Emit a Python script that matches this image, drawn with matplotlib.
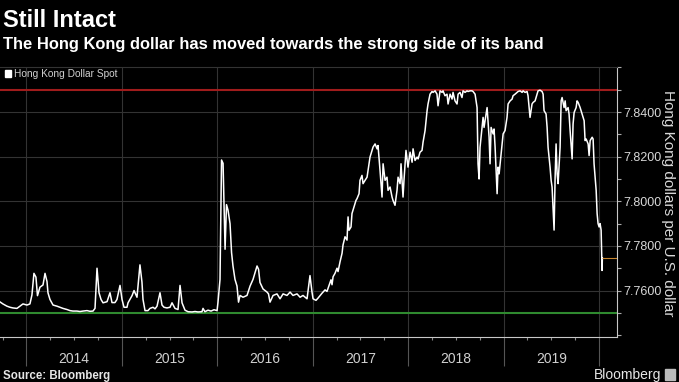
import matplotlib.pyplot as plt
import matplotlib.transforms as mtransforms
from matplotlib.patches import Patch, Rectangle
from matplotlib.ticker import MultipleLocator, FixedLocator, FormatStrFormatter

# time as decimal years
t_years = [
    2013.722, 2013.753, 2013.795, 2013.827, 2013.858, 2013.900, 2013.932, 2013.963,
    2014.005, 2014.036, 2014.057, 2014.078, 2014.099, 2014.115, 2014.141, 2014.173,
    2014.194, 2014.215, 2014.225, 2014.246, 2014.278, 2014.319, 2014.351, 2014.382,
    2014.424, 2014.456, 2014.487, 2014.529, 2014.561, 2014.592, 2014.634, 2014.665,
    2014.697, 2014.718, 2014.739, 2014.760, 2014.781, 2014.802, 2014.844, 2014.875,
    2014.896, 2014.927, 2014.948, 2014.980,
    2015.001, 2015.022, 2015.053, 2015.064, 2015.106, 2015.127, 2015.158, 2015.189,
    2015.210, 2015.221, 2015.242, 2015.273, 2015.294, 2015.326, 2015.347, 2015.368,
    2015.399, 2015.420, 2015.441, 2015.472, 2015.504, 2015.525, 2015.556, 2015.588,
    2015.609, 2015.630, 2015.661, 2015.693, 2015.735, 2015.766, 2015.797, 2015.839,
    2015.850, 2015.870, 2015.902, 2015.934, 2015.965, 2015.997,
    2016.007, 2016.028, 2016.044, 2016.060, 2016.081, 2016.096, 2016.112, 2016.133,
    2016.149, 2016.164, 2016.185, 2016.206, 2016.222, 2016.238, 2016.269, 2016.311,
    2016.343, 2016.374, 2016.416, 2016.432, 2016.447, 2016.479, 2016.521, 2016.536,
    2016.552, 2016.584, 2016.625, 2016.657, 2016.689, 2016.730, 2016.762, 2016.793,
    2016.835, 2016.867, 2016.898, 2016.940, 2016.971, 2016.992,
    2017.003, 2017.034, 2017.055, 2017.097, 2017.129, 2017.149, 2017.160, 2017.191,
    2017.202, 2017.213, 2017.233, 2017.254, 2017.265, 2017.286, 2017.307, 2017.317,
    2017.338, 2017.359, 2017.370, 2017.380, 2017.401, 2017.411, 2017.432, 2017.453,
    2017.464, 2017.485, 2017.495, 2017.516, 2017.527, 2017.548, 2017.569, 2017.579,
    2017.600, 2017.621, 2017.632, 2017.653, 2017.674, 2017.684, 2017.705, 2017.726,
    2017.737, 2017.758, 2017.778, 2017.789, 2017.810, 2017.831, 2017.841, 2017.862,
    2017.883, 2017.894, 2017.915, 2017.925, 2017.946, 2017.956, 2017.977, 2017.998,
    2018.020, 2018.041, 2018.051, 2018.072, 2018.093, 2018.104, 2018.124, 2018.145,
    2018.156, 2018.177, 2018.198, 2018.208, 2018.229, 2018.250, 2018.261, 2018.282,
    2018.302, 2018.313, 2018.334, 2018.355, 2018.365, 2018.386, 2018.407, 2018.418,
    2018.439, 2018.460, 2018.470, 2018.491, 2018.512, 2018.523, 2018.543, 2018.564,
    2018.575, 2018.596, 2018.617, 2018.627, 2018.648, 2018.669, 2018.680, 2018.701,
    2018.722, 2018.732, 2018.743, 2018.753, 2018.764, 2018.785, 2018.795, 2018.816,
    2018.827, 2018.848, 2018.858, 2018.869, 2018.890, 2018.900, 2018.911, 2018.932,
    2018.942, 2018.953, 2018.974, 2018.995,
    2019.015, 2019.036, 2019.047, 2019.068, 2019.089, 2019.099, 2019.120, 2019.141,
    2019.152, 2019.173, 2019.194, 2019.204, 2019.225, 2019.246, 2019.256, 2019.277,
    2019.298, 2019.309, 2019.330, 2019.351, 2019.361, 2019.382, 2019.403, 2019.414,
    2019.424, 2019.445, 2019.456, 2019.466, 2019.487, 2019.498, 2019.508, 2019.529,
    2019.540, 2019.550, 2019.561, 2019.571, 2019.592, 2019.603, 2019.613, 2019.634,
    2019.645, 2019.655, 2019.676, 2019.686, 2019.697, 2019.718, 2019.728, 2019.739,
    2019.760, 2019.770, 2019.781, 2019.802, 2019.812, 2019.823, 2019.844, 2019.854,
    2019.865, 2019.886, 2019.896, 2019.907, 2019.928, 2019.938, 2019.948, 2019.970,
    2019.980, 2019.990, 2020.001, 2020.011, 2020.022, 2020.027, 2020.032, 2020.035,
]

hkd_spot = [
    7.7549, 7.7540, 7.7530, 7.7525, 7.7522, 7.7520, 7.7530, 7.7540,
    7.7535, 7.7540, 7.7580, 7.7677, 7.7660, 7.7577, 7.7615, 7.7625,
    7.7677, 7.7640, 7.7590, 7.7560, 7.7535, 7.7530, 7.7525, 7.7520,
    7.7515, 7.7510, 7.7508, 7.7508, 7.7506, 7.7508, 7.7510, 7.7507,
    7.7508, 7.7520, 7.7700, 7.7590, 7.7560, 7.7545, 7.7550, 7.7590,
    7.7546, 7.7546, 7.7560, 7.7623,
    7.7560, 7.7525, 7.7525, 7.7545, 7.7577, 7.7600, 7.7570, 7.7715,
    7.7638, 7.7560, 7.7510, 7.7510, 7.7520, 7.7525, 7.7518, 7.7530,
    7.7590, 7.7535, 7.7525, 7.7522, 7.7525, 7.7545, 7.7520, 7.7515,
    7.7623, 7.7545, 7.7512, 7.7505, 7.7504, 7.7506, 7.7504, 7.7505,
    7.7520, 7.7505, 7.7512, 7.7508, 7.7514, 7.7510,
    7.7548, 7.7650, 7.8185, 7.8170, 7.7785, 7.7985, 7.7960, 7.7900,
    7.7770, 7.7710, 7.7650, 7.7620, 7.7548, 7.7578, 7.7570, 7.7578,
    7.7620, 7.7650, 7.7710, 7.7695, 7.7636, 7.7607, 7.7593, 7.7585,
    7.7548, 7.7578, 7.7585, 7.7563, 7.7585, 7.7578, 7.7593, 7.7578,
    7.7585, 7.7570, 7.7578, 7.7563, 7.7667, 7.7593,
    7.7563, 7.7556, 7.7566, 7.7588, 7.7603, 7.7596, 7.7610, 7.7648,
    7.7626, 7.7662, 7.7677, 7.7700, 7.7685, 7.7729, 7.7767, 7.7804,
    7.7841, 7.7826, 7.7930, 7.7870, 7.7885, 7.7945, 7.7975, 7.8004,
    7.8012, 7.8034, 7.8094, 7.8116, 7.8079, 7.8094, 7.8108, 7.8138,
    7.8198, 7.8228, 7.8243, 7.8257, 7.8235, 7.8250, 7.8138, 7.8019,
    7.8168, 7.8094, 7.8108, 7.8049, 7.8064, 7.8019, 7.8004, 7.7982,
    7.8049, 7.8108, 7.8079, 7.8168, 7.8019, 7.8094, 7.8228, 7.8153,
    7.8220, 7.8175, 7.8235, 7.8183, 7.8198, 7.8190, 7.8220, 7.8228,
    7.8265, 7.8317, 7.8406, 7.8436, 7.8480, 7.8492, 7.8488, 7.8495,
    7.8480, 7.8428, 7.8495, 7.8488, 7.8495, 7.8473, 7.8480, 7.8436,
    7.8480, 7.8458, 7.8488, 7.8450, 7.8436, 7.8480, 7.8488, 7.8465,
    7.8495, 7.8488, 7.8495, 7.8492, 7.8495, 7.8495, 7.8492, 7.8480,
    7.8420, 7.8168, 7.8100, 7.8242, 7.8287, 7.8376, 7.8331, 7.8391,
    7.8420, 7.8287, 7.8168, 7.8331, 7.8302, 7.8324, 7.8242, 7.8034,
    7.8153, 7.8123, 7.8212, 7.8302,
    7.8317, 7.8376, 7.8436, 7.8450, 7.8458, 7.8473, 7.8480, 7.8488,
    7.8492, 7.8495, 7.8488, 7.8495, 7.8488, 7.8492, 7.8473, 7.8376,
    7.8436, 7.8443, 7.8450, 7.8480, 7.8495, 7.8498, 7.8492, 7.8480,
    7.8406, 7.8391, 7.8331, 7.8242, 7.8153, 7.8094, 7.8064, 7.7871,
    7.8108, 7.8257, 7.8123, 7.8079, 7.8242, 7.8450, 7.8465, 7.8420,
    7.8450, 7.8406, 7.8420, 7.8391, 7.8317, 7.8190, 7.8346, 7.8398,
    7.8420, 7.8450, 7.8443, 7.8420, 7.8406, 7.8391, 7.8361, 7.8272,
    7.8279, 7.8257, 7.8205, 7.8272, 7.8287, 7.8279, 7.8168, 7.8049,
    7.7945, 7.7900, 7.7885, 7.7900, 7.7871, 7.7782, 7.7690, 7.7745,
]

band_weak = 7.85
band_strong = 7.75
last_value = 7.7745
year_labels = [2014, 2015, 2016, 2017, 2018, 2019]
y_ticks = [7.76, 7.78, 7.80, 7.82, 7.84]
x_range = (2013.7223, 2020.1885)
y_range = (7.7394, 7.8604)

plt.rcParams['font.family'] = ['Liberation Sans', 'DejaVu Sans']

fig = plt.figure(figsize=(6.79, 3.82), dpi=100, facecolor='black')
ax = fig.add_axes([0.0, 0.1191, 0.9087, 0.7068])
ax.set_facecolor('black')

# band limits
ax.axhline(band_weak, color='#a01c1c', lw=1.5, zorder=2)
ax.axhline(band_strong, color='#2f8a2f', lw=1.5, zorder=2)

ax.plot(t_years, hkd_spot, color='white', lw=1.1, zorder=3)
ax.hlines(last_value, t_years[-1], x_range[1], color='#c8862e', lw=0.8, zorder=3)

ax.set_xlim(*x_range)
ax.set_ylim(*y_range)

# x axis: year separators + quarter ticks, labels centred in each year
ax.xaxis.set_major_locator(MultipleLocator(1))
ax.xaxis.set_minor_locator(MultipleLocator(0.25))
ax.tick_params(axis='x', which='major', length=21, width=0.8, color='#555555',
               labelbottom=False)
ax.tick_params(axis='x', which='minor', length=2.5, width=0.8, color='#888888')
trans = mtransforms.blended_transform_factory(ax.transData, ax.transAxes)
for yr in year_labels:
    ax.text(yr + 0.5, -0.083, str(yr), transform=trans, ha='center', va='center',
            fontsize=10, color='#d0d0d0',
            family=['Liberation Sans Narrow', 'Liberation Sans', 'DejaVu Sans'])

# y axis on the right
ax.yaxis.tick_right()
ax.yaxis.set_major_locator(FixedLocator(y_ticks))
ax.yaxis.set_minor_locator(MultipleLocator(0.01))
ax.yaxis.set_major_formatter(FormatStrFormatter('%.4f'))
ax.tick_params(axis='y', which='both', length=3, width=0.8, color='#aaaaaa',
               labelcolor='#d8d8d8', labelsize=9, pad=1.5)

fig.text(668 / 679, 1 - 203.5 / 382, 'Hong Kong dollars per U.S. dollar',
         rotation=270, ha='center', va='center', color='#d8d8d8', fontsize=11)

ax.grid(which='major', color='#333333', lw=0.8, zorder=0)

ax.spines['left'].set_visible(False)
ax.spines['top'].set_color('#333333')
ax.spines['right'].set_color('#c8c8c8')
ax.spines['bottom'].set_color('#c8c8c8')

leg = ax.legend(handles=[Patch(facecolor='white', edgecolor='white')],
                labels=['Hong Kong Dollar Spot'], loc='upper left',
                bbox_to_anchor=(0.008, 0.99), frameon=False, fontsize=7.3,
                handlelength=0.6, handleheight=0.6, handletextpad=0.3,
                borderpad=0, borderaxespad=0)
for txt in leg.get_texts():
    txt.set_color('#d0d0d0')

fig.text(3 / 679, 1 - 26.8 / 382, 'Still Intact', fontsize=17, weight='bold',
         color='white', va='baseline')
fig.text(3 / 679, 1 - 48.5 / 382,
         'The Hong Kong dollar has moved towards the strong side of its band',
         fontsize=11.9, weight='bold', color='white', va='baseline')
fig.text(3 / 679, 1 - 378.5 / 382, 'Source: Bloomberg', fontsize=8.3,
         weight='bold', color='#e6e6e6', va='baseline')
fig.text(661 / 679, 1 - 379 / 382, 'Bloomberg', fontsize=10, color='#e6e6e6',
         ha='right', va='baseline')
fig.patches.append(Rectangle((665 / 679, 1 - 380 / 382), 10 / 679, 11 / 382,
                             transform=fig.transFigure, color='#bbbbbb'))

fig.savefig('out.png', dpi=100, facecolor='black')
